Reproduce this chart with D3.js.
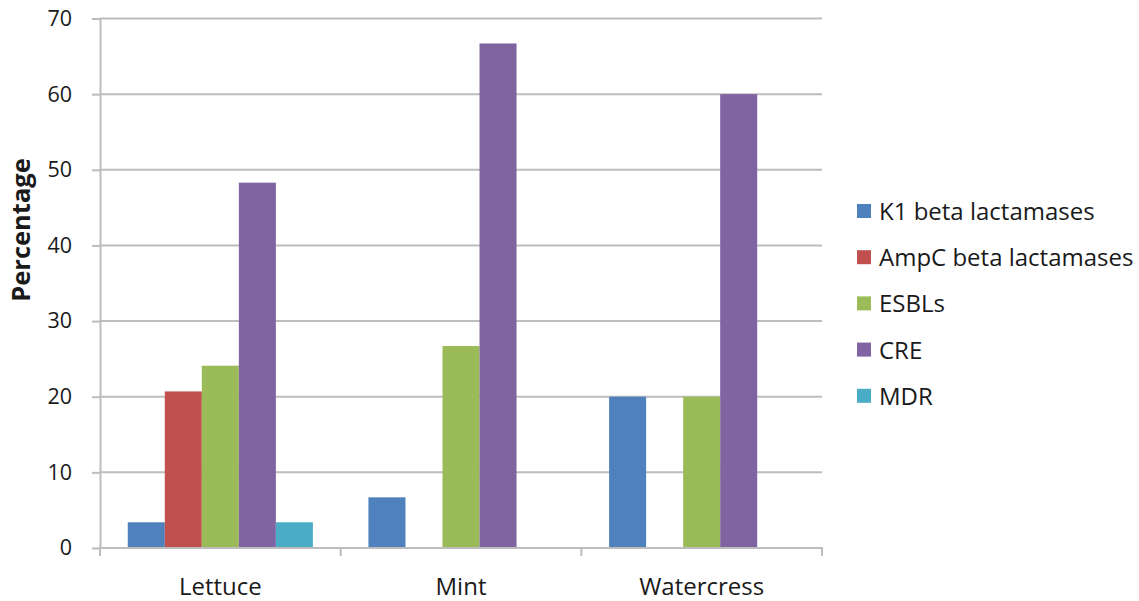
<!DOCTYPE html>
<html>
<head>
<meta charset="utf-8">
<script src="https://cdn.jsdelivr.net/npm/d3@7"></script>
<style>
  html, body { margin: 0; padding: 0; background: #fff; }
  svg { display: block; font-family: "Open Sans", Lato, sans-serif; }
</style>
</head>
<body>
<svg id="chart" width="1139" height="601"></svg>
<script>
// Sample types on the category axis
const categories = ["Lettuce", "Mint", "Watercress"];

// Resistance groups (legend order) and their fills
const seriesNames = ["K1 beta lactamases", "AmpC beta lactamases", "ESBLs", "CRE", "MDR"];
const seriesColors = ["#4F81BD", "#C0504D", "#9BBB59", "#8064A2", "#4BACC6"];

// Percentage of isolates per sample type, one array per group
const k1Values   = [3.4, 6.7, 20.0];
const ampcValues = [20.7, 0, 0];
const esblValues = [24.1, 26.7, 20.0];
const creValues  = [48.3, 66.7, 60.0];
const mdrValues  = [3.4, 0, 0];

// Value axis ticks
const yTicks = [0, 10, 20, 30, 40, 50, 60, 70];
const yTitle = "Percentage";

const seriesValues = [k1Values, ampcValues, esblValues, creValues, mdrValues];

const svg = d3.select("#chart");
const plot = { left: 100, right: 822, top: 18.5, bottom: 548 };
const gridColor = "#BDBDBD";
const textColor = "#1a1a1a";

const y = d3.scaleLinear().domain([0, 70]).range([plot.bottom, plot.top]);
const x0 = d3.scaleBand().domain(categories).range([plot.left, plot.right]).padding(0);
const x1 = d3.scaleBand().domain(seriesNames).range([0, x0.bandwidth()])
  .paddingInner(0).paddingOuter(0.75);

// Horizontal gridlines
svg.append("g")
  .selectAll("line")
  .data(yTicks.filter(t => t > 0))
  .join("line")
  .attr("x1", plot.left).attr("x2", plot.right)
  .attr("y1", d => y(d)).attr("y2", d => y(d))
  .attr("stroke", gridColor).attr("stroke-width", 2);

// Bars
const groups = svg.append("g")
  .selectAll("g")
  .data(categories)
  .join("g")
  .attr("transform", d => `translate(${x0(d)},0)`);

groups.selectAll("rect")
  .data((c, ci) => seriesNames.map((s, si) => ({ s, si, v: seriesValues[si][ci] })))
  .join("rect")
  .filter(d => d.v > 0)
  .attr("x", d => x1(d.s))
  .attr("width", x1.bandwidth())
  .attr("y", d => y(d.v))
  .attr("height", d => y(0) - y(d.v))
  .attr("fill", d => seriesColors[d.si]);

// Value axis
const yAxis = svg.append("g")
  .attr("transform", `translate(${plot.left},0)`)
  .call(d3.axisLeft(y).tickValues(yTicks).tickSize(8).tickPadding(20).tickSizeOuter(0));
yAxis.select(".domain").attr("stroke", gridColor).attr("stroke-width", 2);
yAxis.selectAll(".tick line").attr("stroke", gridColor).attr("stroke-width", 2);
yAxis.selectAll(".tick text")
  .attr("fill", textColor)
  .style("font-size", "21.5px")
  .style("font-family", "'Open Sans', Lato, sans-serif");

// Category axis with ticks between groups
const xAxis = svg.append("g")
  .attr("transform", `translate(0,${plot.bottom})`);
xAxis.append("line")
  .attr("x1", plot.left - 1).attr("x2", plot.right + 1)
  .attr("stroke", gridColor).attr("stroke-width", 2);
const boundaries = categories.map(c => x0(c)).concat([x0(categories[categories.length - 1]) + x0.bandwidth()]);
xAxis.selectAll("line.sep")
  .data(boundaries)
  .join("line")
  .attr("class", "sep")
  .attr("x1", d => d).attr("x2", d => d)
  .attr("y1", 0).attr("y2", 8)
  .attr("stroke", gridColor).attr("stroke-width", 2);
xAxis.selectAll("text")
  .data(categories)
  .join("text")
  .attr("x", d => x0(d) + x0.bandwidth() / 2)
  .attr("y", 47)
  .attr("text-anchor", "middle")
  .attr("fill", textColor)
  .style("font-size", "24px")
  .text(d => d);

// Axis title
svg.append("text")
  .attr("transform", "translate(30,230) rotate(-90)")
  .attr("text-anchor", "middle")
  .attr("fill", textColor)
  .style("font-size", "25.5px")
  .style("font-weight", "bold")
  .text(yTitle);

// Legend
const legend = svg.append("g");
const legendRows = legend.selectAll("g")
  .data(seriesNames)
  .join("g")
  .attr("transform", (d, i) => `translate(857,${212 + i * 46.2})`);
legendRows.append("rect")
  .attr("x", 0).attr("y", -8)
  .attr("width", 14).attr("height", 14)
  .attr("fill", (d, i) => seriesColors[i]);
legendRows.append("text")
  .attr("x", 22).attr("y", 8)
  .attr("fill", textColor)
  .style("font-size", "24px")
  .text(d => d);
</script>
</body>
</html>
